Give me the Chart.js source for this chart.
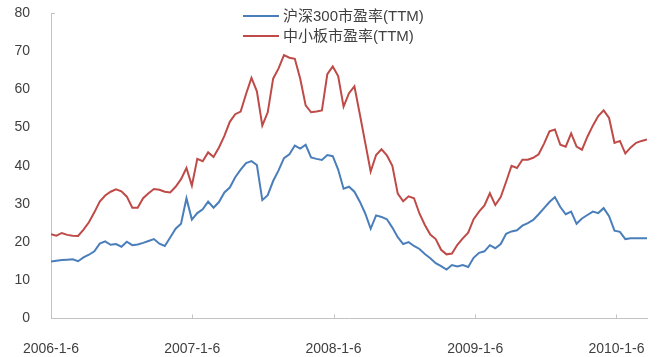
<!DOCTYPE html>
<html>
<head>
<meta charset="utf-8">
<script src="https://cdn.jsdelivr.net/npm/chart.js@4.4.1/dist/chart.umd.min.js"></script>
<style>
  html, body { margin: 0; padding: 0; background: #fff; overflow: hidden; }
</style>
</head>
<body>
<canvas id="peChart" width="660" height="357"></canvas>
<script>
// weekly P/E (TTM), one point every two weeks starting 2006-1-6
const startDate = '2006-1-6';
const tickLabels = ['2006-1-6', '2007-1-6', '2008-1-6', '2009-1-6', '2010-1-6'];
const seriesNames = ['沪深300市盈率(TTM)', '中小板市盈率(TTM)'];

const hs300 = [
  14.9, 15.1, 15.3, 15.4, 15.5, 15.0, 16.0, 16.7, 17.6, 19.6,
  20.2, 19.3, 19.5, 18.8, 20.1, 19.2, 19.4, 19.8, 20.3, 20.8,
  19.6, 19.0, 21.2, 23.5, 24.8, 31.5, 25.9, 27.6, 28.6, 30.6,
  29.0, 30.5, 33.0, 34.3, 37.0, 39.0, 40.7, 41.2, 40.2, 31.0,
  32.3, 36.0, 38.8, 42.0, 43.0, 45.3, 44.5, 45.5, 42.2, 41.8,
  41.5, 42.8, 42.5, 39.0, 34.0, 34.5, 33.2, 30.6, 27.5, 23.5,
  27.0, 26.6, 26.0, 23.8, 21.3, 19.5, 20.0, 19.0, 18.2, 16.9,
  15.8, 14.5, 13.7, 12.8, 14.0, 13.6, 14.0, 13.5, 15.9, 17.2,
  17.6, 19.2, 18.4, 19.5, 22.2, 22.8, 23.1, 24.3, 25.0, 25.8,
  27.3, 28.9, 30.5, 31.8, 29.2, 27.3, 28.0, 24.8, 26.2, 27.1,
  28.0, 27.6, 28.9, 26.8, 23.0, 22.7, 20.8, 21.0, 21.0, 21.0,
  21.0
];

const smeBoard = [
  22.1, 21.7, 22.4, 21.9, 21.7, 21.6, 23.3, 25.2, 27.8, 30.6,
  32.2, 33.2, 33.8, 33.3, 31.9, 29.0, 29.0, 31.5, 32.8, 33.9,
  33.7, 33.2, 33.0, 34.5, 36.5, 39.4, 34.8, 41.8, 41.2, 43.5,
  42.3, 44.8, 47.8, 51.5, 53.5, 54.2, 58.8, 63.0, 59.5, 50.5,
  54.0, 62.8, 65.5, 69.0, 68.3, 68.0, 62.8, 55.8, 54.0, 54.2,
  54.5, 64.0, 66.0, 63.5, 55.5, 59.0, 60.8, 53.5, 46.0, 38.5,
  42.8, 44.3, 42.7, 40.0, 32.7, 30.7, 32.0, 31.5, 27.5, 24.5,
  22.0, 20.8, 18.0, 16.8, 17.0, 19.3, 21.0, 22.5, 26.0, 28.0,
  29.6, 32.8, 29.7, 31.8, 35.8, 40.0, 39.4, 41.6, 41.6, 42.1,
  43.0, 45.8, 49.0, 49.5, 45.5, 45.0, 48.5, 45.0, 44.2, 47.6,
  50.5, 53.0, 54.5, 52.5, 46.0, 46.5, 43.2, 44.8, 46.0, 46.5,
  46.9
];

const WEEK_MS = 7 * 24 * 3600 * 1000;
const toWeek = s => {
  const [y, m, d] = s.split('-').map(Number);
  const [y0, m0, d0] = startDate.split('-').map(Number);
  return (Date.UTC(y, m - 1, d) - Date.UTC(y0, m0 - 1, d0)) / WEEK_MS;
};
const weeks = hs300.map((_, i) => i * 2);
const tickWeeks = tickLabels.map(toWeek);

const axisColor = '#c3c3c3';
const textColor = '#3f3f3f';
const latinFont = "'Liberation Sans', Arial, 'Noto Sans CJK SC', sans-serif";

// small legend drawn inside the plot, like the original excel chart
const legendPlugin = {
  id: 'topLegend',
  afterDraw(chart) {
    const ctx = chart.ctx;
    ctx.save();
    ctx.font = "15px " + latinFont;
    ctx.fillStyle = textColor;
    ctx.textBaseline = 'middle';
    chart.data.datasets.forEach((ds, i) => {
      const y = 16 + i * 20;
      ctx.strokeStyle = ds.borderColor;
      ctx.lineWidth = 2;
      ctx.beginPath();
      ctx.moveTo(243, y);
      ctx.lineTo(279, y);
      ctx.stroke();
      ctx.fillText(ds.label, 283, y + 1);
    });
    ctx.restore();
  }
};

// tick marks point inward
const innerTicks = {
  id: 'innerTicks',
  afterDraw(chart) {
    const { ctx, scales: { x, y } } = chart;
    ctx.save();
    ctx.strokeStyle = axisColor;
    ctx.lineWidth = 1;
    ctx.beginPath();
    tickWeeks.forEach(w => {
      const px = Math.round(x.getPixelForValue(w)) + 0.5;
      ctx.moveTo(px, y.bottom);
      ctx.lineTo(px, y.bottom - 4);
    });
    const top = Math.round(y.getPixelForValue(80)) + 0.5;
    ctx.moveTo(x.left, top);
    ctx.lineTo(x.left + 4, top);
    ctx.stroke();
    ctx.restore();
  }
};

new Chart(document.getElementById('peChart'), {
  type: 'line',
  data: {
    datasets: [
      {
        label: seriesNames[0],
        data: hs300.map((v, i) => ({ x: weeks[i], y: v })),
        borderColor: '#4a7ebb',
        borderWidth: 2,
        pointRadius: 0,
        tension: 0
      },
      {
        label: seriesNames[1],
        data: smeBoard.map((v, i) => ({ x: weeks[i], y: v })),
        borderColor: '#be4b48',
        borderWidth: 2,
        pointRadius: 0,
        tension: 0
      }
    ]
  },
  options: {
    responsive: false,
    animation: false,
    layout: { padding: { top: 13, right: 13, left: 0, bottom: 0 } },
    plugins: {
      legend: { display: false },
      tooltip: { enabled: false }
    },
    scales: {
      x: {
        type: 'linear',
        min: 0,
        max: 220,
        grid: { display: false, drawTicks: false },
        border: { color: axisColor, width: 1 },
        afterBuildTicks: scale => {
          scale.ticks = tickWeeks.map(v => ({ value: v }));
        },
        afterFit: scale => {
          scale.height = 38.5;
          scale.paddingLeft = 0;
          scale.paddingRight = 0;
        },
        ticks: {
          autoSkip: false,
          maxRotation: 0,
          padding: 22,
          color: textColor,
          font: { family: latinFont, size: 14 },
          callback: (v, i) => tickLabels[i]
        }
      },
      y: {
        min: 0,
        max: 80,
        grid: { display: false, drawTicks: false },
        border: { color: axisColor, width: 1 },
        afterFit: scale => {
          scale.width = 51;
          scale.paddingTop = 0;
          scale.paddingBottom = 0;
        },
        ticks: {
          stepSize: 10,
          padding: 21,
          color: textColor,
          font: { family: latinFont, size: 14 }
        }
      }
    }
  },
  plugins: [legendPlugin, innerTicks]
});
</script>
</body>
</html>
